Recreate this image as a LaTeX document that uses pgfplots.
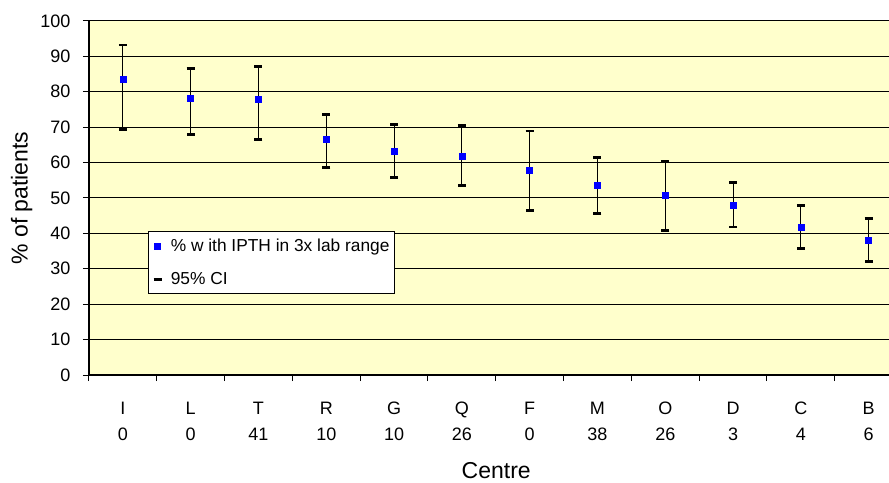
\documentclass[border=0pt]{standalone}
\usepackage{pgfplots}
\pgfplotsset{compat=1.18}
\usepackage{pgfplotstable}
\usepackage{fontspec}
\setmainfont{Liberation Sans}
\usetikzlibrary{calc}
\definecolor{plotbg}{RGB}{255,255,204}

% centre, point estimate, lower and upper 95% CI
\pgfplotstableread{
x  y    lo   hi
1  83.4 69.3 93.2
2  78.2 67.9 86.6
3  77.8 66.6 87.1
4  66.6 58.6 73.5
5  63.3 55.8 70.8
6  61.9 53.5 70.4
7  57.7 46.5 68.9
8  53.5 45.6 61.5
9  50.7 40.9 60.4
10 47.9 41.8 54.4
11 41.8 35.8 47.8
12 38.1 32.0 44.2
}\datatable

\begin{document}
\begin{tikzpicture}
\begin{axis}[
    scale only axis,
    width=600pt, height=265.5pt,
    xmin=0.5, xmax=12.3,
    ymin=0, ymax=100,
    axis x line*=bottom, axis y line*=left,
    axis line style={black, line width=1pt},
    axis background/.style={fill=plotbg},
    ytick={0,10,...,100},
    xtick={1,...,12},
    minor xtick={0.5,1.5,...,11.5},
    xticklabels={{I\\0},{L\\0},{T\\41},{R\\10},{G\\10},{Q\\26},{F\\0},{M\\38},{O\\26},{D\\3},{C\\4},{B\\6}},
    tick align=outside,
    major tick length=4.5pt, minor tick length=4.5pt,
    major x tick style={draw=none},
    minor x tick style={black, line width=0.75pt},
    ytick style={black, line width=0.75pt},
    ymajorgrids,
    major grid style={black, line width=0.75pt},
    /pgf/number format/assume math mode=true,
    ticklabel style={font=\fontsize{13.5}{19.5}\selectfont},
    xticklabel style={align=center, yshift=-12.5pt},
    yticklabel style={xshift=-6pt},
    xlabel={Centre},
    ylabel={\% of patients},
    every axis x label/.style={at={(rel axis cs:0.509,0)}, anchor=center, yshift=-72pt,
        font=\fontsize{17.25}{20}\selectfont},
    every axis y label/.style={at={(rel axis cs:0,0.5)}, anchor=center, xshift=-50.5pt, rotate=90,
        font=\fontsize{17.25}{20}\selectfont},
    legend style={at={(axis cs:1.37,40.6)}, anchor=north west, draw=black, fill=white,
        line width=0.75pt, font=\fontsize{13}{15}\selectfont, legend cell align=left,
        inner xsep=2pt, inner ysep=3.5pt, row sep=10pt},
]
\addplot[draw=none, forget plot,
    error bars/.cd, y dir=both, y explicit,
    error bar style={draw=black, line width=0.8pt},
    error mark options={rotate=90, draw=black, line width=2pt, mark size=3pt}]
  table[x=x, y=y, y error plus expr=\thisrow{hi}-\thisrow{y}, y error minus expr=\thisrow{y}-\thisrow{lo}] {\datatable};
\addplot[only marks, mark=square*, mark size=2.25pt, blue,
    legend image code/.code={\path (0pt,0pt) (12pt,0pt); \draw[blue, fill=blue] (2.25pt,-2.25pt) rectangle (6.75pt,2.25pt);}]
  table[x=x, y=y] {\datatable};
\addlegendentry{\% w ith IPTH in 3x lab range}
\addlegendimage{legend image code/.code={\path (0pt,0pt) (12pt,0pt); \draw[black, line width=2pt] (1.5pt,0pt) -- (7.5pt,0pt);}}
\addlegendentry{95\% CI}
\end{axis}
\pgfresetboundingbox
\path[use as bounding box] ($(current axis.south west)+(-66.75pt,-80.25pt)$) rectangle ($(current axis.north east)+(0pt,15.75pt)$);
\end{tikzpicture}
\end{document}
